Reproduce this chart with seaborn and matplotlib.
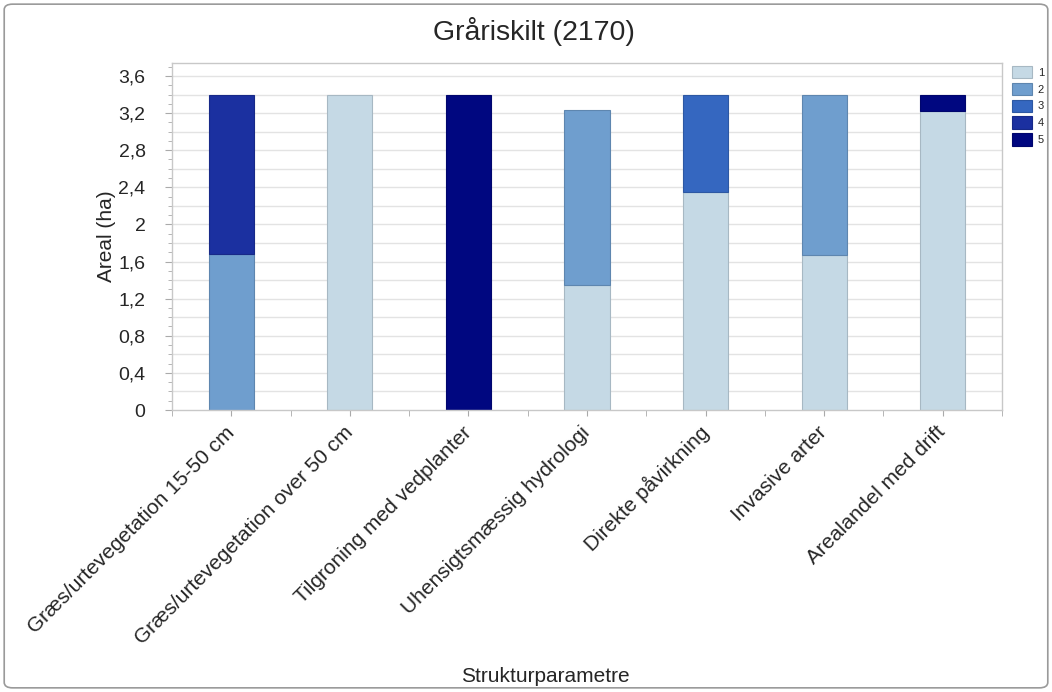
import pandas as pd
import seaborn as sns
import matplotlib.pyplot as plt
import matplotlib.ticker as mticker
import matplotlib.colors as mcolors
from matplotlib.patches import FancyBboxPatch, Patch

# parametre paa x-aksen
params = ['Græs/urtevegetation 15-50 cm', 'Græs/urtevegetation over 50 cm',
          'Tilgroning med vedplanter', 'Uhensigtsmæssig hydrologi',
          'Direkte påvirkning', 'Invasive arter', 'Arealandel med drift']
klasser = ['1', '2', '3', '4', '5']

# areal (ha) pr. klasse for hver parameter
k1 = [0.0, 3.39, 0.0, 1.35, 2.35, 1.67, 3.22]
k2 = [1.68, 0.0, 0.0, 1.88, 0.0, 1.72, 0.0]
k3 = [0.0, 0.0, 0.0, 0.0, 1.04, 0.0, 0.0]
k4 = [1.71, 0.0, 0.0, 0.0, 0.0, 0.0, 0.0]
k5 = [0.0, 0.0, 3.39, 0.0, 0.0, 0.0, 0.17]

farver = ['#c5d9e5', '#6f9ece', '#3567c0', '#1b30a0', '#000780']

rows = []
for k, vals in zip(klasser, [k1, k2, k3, k4, k5]):
    for p, v in zip(params, vals):
        if v > 0:
            rows.append({'param': p, 'klasse': k, 'areal': v})
df = pd.DataFrame(rows)
df['param'] = pd.Categorical(df['param'], categories=params, ordered=True)

sns.set_style('white')
plt.rcParams['font.family'] = ['Liberation Sans', 'DejaVu Sans']

fig = plt.figure(figsize=(10.52, 6.92), dpi=100)
ax = fig.add_axes([0.1635, 0.4075, 0.789, 0.5015])

# histplot stabler foerste hue-niveau oeverst, derfor omvendt raekkefoelge
sns.histplot(data=df, x='param', hue='klasse', weights='areal', multiple='stack',
             hue_order=klasser[::-1], palette=dict(zip(klasser, farver)), discrete=True,
             shrink=0.38, alpha=1, linewidth=0.8, ax=ax, legend=False)

# fjern tomme bjaelker og goer kanterne lidt moerkere end fyldfarven
for p in list(ax.patches):
    if p.get_height() <= 0:
        p.remove()
        continue
    fc = mcolors.to_rgb(p.get_facecolor())
    p.set_edgecolor(tuple(c * 0.85 for c in fc))

ax.set_xlim(-0.5, 6.5)
ax.set_ylim(0, 3.74)
ax.yaxis.set_major_locator(mticker.FixedLocator([i * 0.4 for i in range(10)]))
ax.yaxis.set_minor_locator(mticker.FixedLocator([i * 0.1 for i in range(38)]))
ax.yaxis.set_major_formatter(mticker.FuncFormatter(lambda v, _: f'{round(v, 1):g}'.replace('.', ',')))
ax.set_xticks(range(len(params)))
ax.set_xticks([i + 0.5 for i in range(-1, len(params))], minor=True)
ax.set_xticklabels(params, rotation=45, ha='right', va='center', rotation_mode='anchor', fontsize=15)
ax.tick_params(axis='y', which='major', labelsize=14, length=5, color='#aaaaaa', left=True, pad=14)
ax.tick_params(axis='y', which='minor', length=3, color='#aaaaaa', left=True)
ax.tick_params(axis='x', which='both', length=4, color='#aaaaaa', bottom=True, pad=10)

# gitterlinjer hver 0,2
for y in [i * 0.2 for i in range(1, 19)]:
    ax.axhline(y, color='#e3e3e3', lw=1, zorder=0)
ax.set_axisbelow(True)
for s in ax.spines.values():
    s.set_color('#c8c8c8')
    s.set_linewidth(1)

ax.set_ylabel('Areal (ha)', fontsize=15)
ax.yaxis.set_label_coords(-0.068, 0.5)
ax.set_xlabel('Strukturparametre', fontsize=15)
ax.xaxis.set_label_coords(0.45, -0.74)
fig.suptitle('Gråriskilt (2170)', fontsize=20.5, x=0.508, y=0.975)

handles = [Patch(facecolor=c, edgecolor=tuple(v * 0.85 for v in mcolors.to_rgb(c)), lw=0.8)
           for c in farver]
ax.legend(handles, klasser, loc='upper left', bbox_to_anchor=(1.007, 1.005), frameon=False,
          fontsize=8, handlelength=1.8, handleheight=1.35, labelspacing=0.4,
          borderpad=0.3, handletextpad=0.5, borderaxespad=0.1)

# ramme om hele figuren
fig.patches.append(FancyBboxPatch((0.004, 0.006), 0.992, 0.988, boxstyle='round,pad=0,rounding_size=0.008',
                                  transform=fig.transFigure, fill=False, ec='#9a9a9a', lw=1.2))

fig.savefig('out.png', dpi=100)
